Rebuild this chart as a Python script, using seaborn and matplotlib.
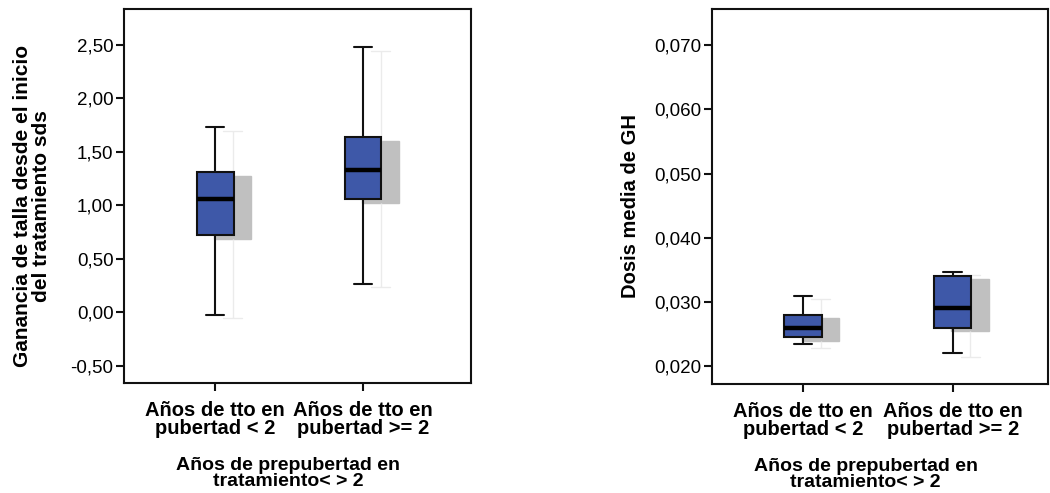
import numpy as np
import pandas as pd
import matplotlib
matplotlib.use("Agg")
import matplotlib.pyplot as plt
import matplotlib.transforms as mtransforms
import seaborn as sns

# Groups on the x axis
grupos = ["Años de tto en\npubertad < 2", "Años de tto en\npubertad >= 2"]

# five-number summaries (min, q1, median, q3, max)
ganancia_lo = [-0.02, 0.27]
ganancia_q1 = [0.72, 1.06]
ganancia_med = [1.06, 1.33]
ganancia_q3 = [1.31, 1.64]
ganancia_hi = [1.73, 2.48]

dosis_lo = [0.0234, 0.0220]
dosis_q1 = [0.0245, 0.0260]
dosis_med = [0.0260, 0.0290]
dosis_q3 = [0.0280, 0.0341]
dosis_hi = [0.0310, 0.0347]

ticks_ganancia = [-0.5, 0.0, 0.5, 1.0, 1.5, 2.0, 2.5]
ticks_dosis = [0.020, 0.030, 0.040, 0.050, 0.060, 0.070]

AZUL = "#3e58a8"
GRIS = "#c0c0c0"


def make_df(lo, q1, med, q3, hi):
    rows = []
    for i, g in enumerate(grupos):
        for v in (lo[i], q1[i], med[i], q3[i], hi[i]):
            rows.append({"grupo": g, "valor": v})
    return pd.DataFrame(rows)


def draw_panel(ax, df):
    # gray drop shadow first, shifted right/down
    n_p, n_l = len(ax.patches), len(ax.lines)
    sns.boxplot(data=df, x="grupo", y="valor", order=grupos, ax=ax,
                color=GRIS, saturation=1, width=0.25, whis=(0, 100),
                linecolor="#ebebeb", linewidth=1.0,
                boxprops=dict(edgecolor=GRIS),
                medianprops=dict(color=GRIS))
    off = mtransforms.ScaledTranslation(0.175, -0.035, ax.figure.dpi_scale_trans)
    for art in ax.patches[n_p:] + ax.lines[n_l:]:
        art.set_transform(ax.transData + off)
        art.set_zorder(1)
    # main boxes
    sns.boxplot(data=df, x="grupo", y="valor", order=grupos, ax=ax,
                color=AZUL, saturation=1, width=0.25, whis=(0, 100),
                linecolor="#111111", linewidth=1.5,
                medianprops=dict(linewidth=3.2, color="black"))


sns.set_style("white")
plt.rcParams["font.family"] = ["Liberation Sans", "DejaVu Sans"]
plt.rcParams["text.color"] = "black"

fig = plt.figure(figsize=(10.5, 4.93), dpi=100)
ax1 = fig.add_axes([0.1181, 0.2231, 0.3305, 0.7586])
ax2 = fig.add_axes([0.6781, 0.2211, 0.3200, 0.7606])

draw_panel(ax1, make_df(ganancia_lo, ganancia_q1, ganancia_med, ganancia_q3, ganancia_hi))
draw_panel(ax2, make_df(dosis_lo, dosis_q1, dosis_med, dosis_q3, dosis_hi))

ax1.set_ylim(-0.659, 2.836)
ax1.set_xlim(-0.615, 1.73)
ax1.set_yticks(ticks_ganancia)
ax1.set_yticklabels([f"{t:.2f}".replace(".", ",") for t in ticks_ganancia])

ax2.set_ylim(0.01725, 0.0756)
ax2.set_xlim(-0.608, 1.637)
ax2.set_yticks(ticks_dosis)
ax2.set_yticklabels([f"{t:.3f}".replace(".", ",") for t in ticks_dosis])

for ax in (ax1, ax2):
    for s in ax.spines.values():
        s.set_visible(True)
        s.set_linewidth(1.5)
        s.set_color("#111111")
    ax.tick_params(axis="both", direction="out", length=6, width=1.5,
                   color="#111111", labelcolor="black", bottom=True, left=True)
    ax.tick_params(axis="y", labelsize=13.5, pad=1.5)
    ax.tick_params(axis="x", labelsize=14.5, pad=7)
    for lab in ax.get_xticklabels():
        lab.set_fontweight("bold")
        lab.set_linespacing(0.95)
    ax.set_xlabel("")
    ax.set_ylabel("")
    ax.text(0.474 if ax is ax1 else 0.457, -0.242, "Años de prepubertad en\ntratamiento< > 2",
            transform=ax.transAxes, ha="center", va="center", color="black",
            fontsize=14, fontweight="bold", linespacing=0.95)

ax1.text(-0.266, 0.474, "Ganancia de talla desde el inicio\ndel tratamiento sds",
         transform=ax1.transAxes, rotation=90, ha="center", va="center", color="black",
         fontsize=15, fontweight="bold", linespacing=1.0)
ax2.text(-0.244, 0.475, "Dosis media de GH",
         transform=ax2.transAxes, rotation=90, ha="center", va="center", color="black",
         fontsize=14.5, fontweight="bold")

fig.savefig("out.png", dpi=100)
